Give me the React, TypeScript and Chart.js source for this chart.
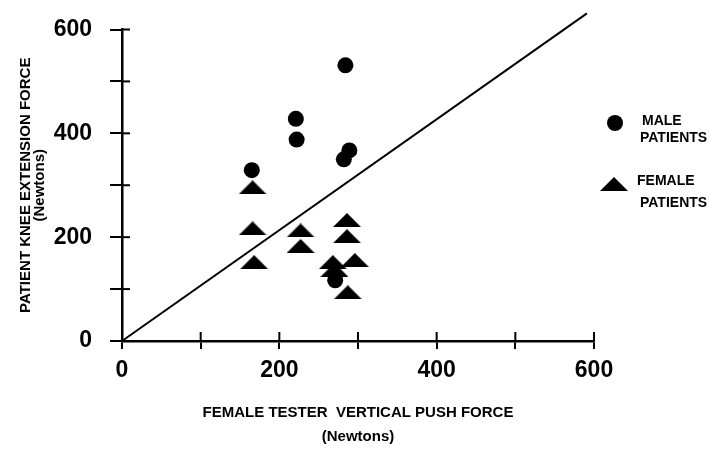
import React, { useEffect, useRef } from 'react';
import { Chart, registerables } from 'chart.js';

Chart.register(...registerables);

// ---- data ----
const maleX = [284, 221, 222, 289, 282, 165, 271];
const maleY = [531, 428, 388, 367, 350, 329, 117];

const femaleX = [166, 166, 168, 227, 227, 286, 286, 268, 270, 296, 287];
const femaleY = [296, 217, 152, 213, 183, 233, 202, 152, 137, 156, 94];

const lineX = [0, 591];
const lineY = [0, 631];

const xTickValues = [0, 100, 200, 300, 400, 500, 600];
const yTickValues = [0, 100, 200, 300, 400, 500, 600];
const labeledValues = [0, 200, 400, 600];

const xTitle = ['FEMALE TESTER  VERTICAL PUSH FORCE', '(Newtons)'];
const yTitle = ['PATIENT KNEE EXTENSION FORCE', '(Newtons)'];
const maleLegend = ['MALE', 'PATIENTS'];
const femaleLegend = ['FEMALE', 'PATIENTS'];

const SANS = "'Liberation Sans', Arial, sans-serif";

function makeTriangle(w: number, h: number): HTMLCanvasElement {
  const c = document.createElement('canvas');
  c.width = w;
  c.height = h;
  const g = c.getContext('2d')!;
  g.fillStyle = '#000';
  g.beginPath();
  g.moveTo(0, h);
  g.lineTo(w / 2, 0);
  g.lineTo(w, h);
  g.closePath();
  g.fill();
  return c;
}

const crossTicks = {
  id: 'crossTicks',
  afterDraw(chart: any) {
    const { ctx, chartArea, scales } = chart;
    ctx.save();
    ctx.strokeStyle = '#000';
    ctx.lineWidth = 2;
    scales.x.ticks.forEach((t: any) => {
      const px = scales.x.getPixelForValue(t.value);
      ctx.beginPath();
      ctx.moveTo(px, chartArea.bottom);
      ctx.lineTo(px, chartArea.bottom - 9);
      ctx.stroke();
    });
    scales.y.ticks.forEach((t: any) => {
      const py = scales.y.getPixelForValue(t.value);
      ctx.beginPath();
      ctx.moveTo(chartArea.left, py);
      ctx.lineTo(chartArea.left + 8, py);
      ctx.stroke();
    });
    ctx.restore();
  },
};

export default function App() {
  const canvasRef = useRef<HTMLCanvasElement | null>(null);

  useEffect(() => {
    document.body.style.margin = '0';
    const canvas = canvasRef.current;
    if (!canvas) return;
    const tri = makeTriangle(28, 14);

    const chart = new Chart(canvas, {
      type: 'scatter',
      data: {
        datasets: [
          {
            label: 'MALE PATIENTS',
            data: maleX.map((x, i) => ({ x, y: maleY[i] })),
            pointStyle: 'circle',
            pointRadius: 8,
            backgroundColor: '#000',
            borderColor: '#000',
            borderWidth: 0,
          },
          {
            label: 'FEMALE PATIENTS',
            data: femaleX.map((x, i) => ({ x, y: femaleY[i] })),
            pointStyle: tri as any,
            pointRadius: 8,
            backgroundColor: '#000',
            borderColor: '#000',
            borderWidth: 0,
          },
          {
            label: 'line',
            type: 'line' as any,
            data: lineX.map((x, i) => ({ x, y: lineY[i] })),
            showLine: true,
            borderColor: '#000',
            borderWidth: 2,
            pointRadius: 0,
            fill: false,
            clip: false as any,
          } as any,
        ],
      },
      options: {
        animation: false,
        responsive: false,
        devicePixelRatio: 1,
        layout: { padding: { top: 29, right: 116, bottom: 0, left: 0 } },
        plugins: {
          legend: { display: false },
          tooltip: { enabled: false },
        },
        scales: {
          x: {
            type: 'linear',
            min: 0,
            max: 600,
            afterBuildTicks: (s: any) => {
              s.ticks = xTickValues.map((v) => ({ value: v }));
            },
            afterFit: (s: any) => {
              s.height = 108;
            },
            ticks: {
              autoSkip: false,
              maxRotation: 0,
              padding: 10,
              color: '#000',
              font: { family: SANS, weight: 'bold', size: 23, lineHeight: 1 },
              callback: (v: any) => (labeledValues.includes(Number(v)) ? String(v) : ''),
            },
            grid: { drawOnChartArea: false, drawTicks: true, tickLength: 8, color: '#000', lineWidth: 2 },
            border: { display: true, color: '#000', width: 2.5 },
            title: {
              display: true,
              text: xTitle,
              color: '#000',
              font: { family: SANS, weight: 'bold', size: 15, lineHeight: '24px' as any },
              padding: { top: 10, bottom: 0 },
            },
          },
          y: {
            type: 'linear',
            min: 0,
            max: 600,
            afterBuildTicks: (s: any) => {
              s.ticks = yTickValues.map((v) => ({ value: v }));
            },
            afterFit: (s: any) => {
              s.width = 122;
            },
            ticks: {
              autoSkip: false,
              padding: 18,
              color: '#000',
              font: { family: SANS, weight: 'bold', size: 23, lineHeight: 1 },
              callback: (v: any) => (labeledValues.includes(Number(v)) ? String(v) : ''),
            },
            grid: { drawOnChartArea: false, drawTicks: true, tickLength: 12, color: '#000', lineWidth: 2 },
            border: { display: true, color: '#000', width: 2.5 },
            title: {
              display: true,
              text: yTitle,
              color: '#000',
              font: { family: SANS, weight: 'bold', size: 15, lineHeight: '14px' as any },
              padding: { top: 19, bottom: 6 },
            },
          },
        },
      },
      plugins: [crossTicks],
    });

    return () => chart.destroy();
  }, []);

  const textStyle: React.CSSProperties = {
    position: 'absolute',
    fontFamily: SANS,
    fontWeight: 'bold',
    fontSize: 14,
    lineHeight: '17px',
    color: '#000',
    whiteSpace: 'nowrap',
  };

  return (
    <div style={{ position: 'relative', width: 710, height: 449, background: '#fff' }}>
      <canvas ref={canvasRef} width={710} height={449} style={{ display: 'block' }} />
      <svg style={{ position: 'absolute', left: 607, top: 115 }} width={16} height={16}>
        <circle cx={8} cy={8} r={8} fill="#000" />
      </svg>
      <div style={{ ...textStyle, left: 642, top: 112 }}>{maleLegend[0]}</div>
      <div style={{ ...textStyle, left: 640, top: 129 }}>{maleLegend[1]}</div>
      <svg style={{ position: 'absolute', left: 600, top: 177 }} width={28} height={14}>
        <polygon points="0,14 14,0 28,14" fill="#000" />
      </svg>
      <div style={{ ...textStyle, left: 637, top: 172 }}>{femaleLegend[0]}</div>
      <div style={{ ...textStyle, left: 640, top: 194 }}>{femaleLegend[1]}</div>
    </div>
  );
}
